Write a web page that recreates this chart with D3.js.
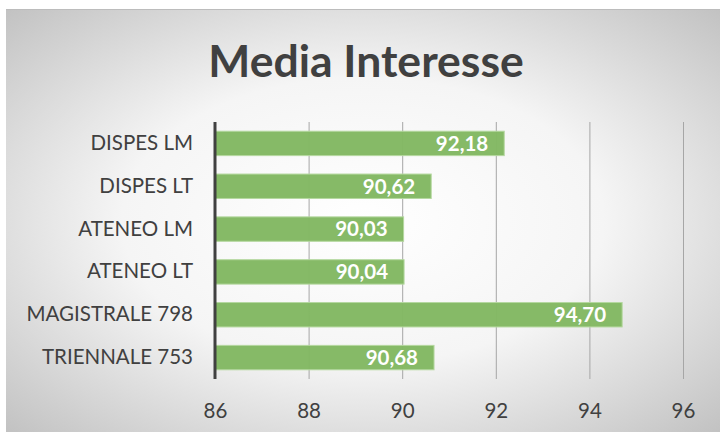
<!DOCTYPE html>
<html>
<head>
<meta charset="utf-8">
<title>Media Interesse</title>
<script src="https://cdn.jsdelivr.net/npm/d3@7"></script>
<style>
    body { margin: 0; background: #fff; }
    text { font-family: Lato, "Noto Sans", sans-serif; }
</style>
</head>
<body>
<svg width="720" height="432" id="mainsvg"></svg>
<script>
    // data
    const categories = ['DISPES LM', 'DISPES LT', 'ATENEO LM', 'ATENEO LT', 'MAGISTRALE 798', 'TRIENNALE 753'];
    const values = [92.18, 90.62, 90.03, 90.04, 94.70, 90.68];
    const xTicks = [86, 88, 90, 92, 94, 96];
    const title = 'Media Interesse';

    const svg = d3.select('#mainsvg');
    const width = +svg.attr('width');
    const height = +svg.attr('height');

    // background gradient
    const defs = svg.append('defs');
    const rg = defs.append('radialGradient').attr('id', 'bg')
        .attr('cx', '50%').attr('cy', '50%').attr('r', '75%');
    rg.append('stop').attr('offset', '0%').attr('stop-color', '#ffffff');
    rg.append('stop').attr('offset', '45%').attr('stop-color', '#f5f5f5');
    rg.append('stop').attr('offset', '100%').attr('stop-color', '#bcbcbc');

    svg.append('rect').attr('x', 6).attr('y', 9)
        .attr('width', width - 6).attr('height', height - 9)
        .attr('fill', 'url(#bg)');
    svg.append('line').attr('x1', 6).attr('x2', width).attr('y1', 9.5).attr('y2', 9.5)
        .attr('stroke', '#bcbcbc').attr('stroke-width', 1);

    svg.append('text').attr('x', 366).attr('y', 77)
        .attr('text-anchor', 'middle')
        .attr('font-size', 44.5).attr('font-weight', 'bold')
        .attr('fill', '#404040').text(title);

    const margin = { top: 122, bottom: 53, left: 215, right: 37 };
    const innerWidth = width - margin.left - margin.right;
    const innerHeight = height - margin.top - margin.bottom;
    const g = svg.append('g').attr('transform', `translate(${margin.left}, ${margin.top})`);

    const xScale = d3.scaleLinear().domain([86, 96]).range([0, innerWidth]);
    const yScale = d3.scaleBand().domain(categories).range([0, innerHeight])
        .paddingInner(0.43).paddingOuter(0.215);

    // gridlines
    g.selectAll('.grid').data(xTicks.slice(1)).join('line')
        .attr('class', 'grid')
        .attr('x1', d => xScale(d) + 0.5).attr('x2', d => xScale(d) + 0.5)
        .attr('y1', 0).attr('y2', innerHeight)
        .attr('stroke', '#a6a6a6').attr('stroke-width', 1);

    // bars
    g.selectAll('.bar').data(values).join('rect')
        .attr('class', 'bar')
        .attr('x', xScale(86))
        .attr('y', (d, i) => yScale(categories[i]))
        .attr('width', d => xScale(d) - xScale(86))
        .attr('height', yScale.bandwidth())
        .attr('fill', '#82b862')
        .attr('fill-opacity', 0.97)
        .attr('stroke', '#b5d8a0').attr('stroke-width', 1);

    // value labels
    g.selectAll('.vlabel').data(values).join('text')
        .attr('class', 'vlabel')
        .attr('x', d => xScale(d) - 16)
        .attr('y', (d, i) => yScale(categories[i]) + yScale.bandwidth() / 2)
        .attr('dy', '0.36em')
        .attr('text-anchor', 'end')
        .attr('font-size', 20.5).attr('font-weight', 'bold')
        .attr('fill', '#ffffff')
        .text(d => d.toFixed(2).replace('.', ','));

    // y axis (category labels)
    const yAxis = d3.axisLeft(yScale).tickSize(0).tickPadding(22);
    const ya = g.append('g').call(yAxis);
    ya.select('.domain').remove();
    ya.selectAll('text').attr('font-size', 20.5).attr('fill', '#404040')
        .style('font-family', 'Lato, "Noto Sans", sans-serif');
    g.append('line').attr('x1', 0).attr('x2', 0).attr('y1', 0).attr('y2', innerHeight)
        .attr('stroke', '#404040').attr('stroke-width', 3);

    // x axis
    const xAxis = d3.axisBottom(xScale).tickValues(xTicks).tickSize(0).tickPadding(24)
        .tickFormat(d3.format('d'));
    const xa = g.append('g').attr('transform', `translate(0, ${innerHeight})`).call(xAxis);
    xa.select('.domain').remove();
    xa.selectAll('text').attr('font-size', 20.5).attr('fill', '#404040')
        .style('font-family', 'Lato, "Noto Sans", sans-serif');
</script>
</body>
</html>
